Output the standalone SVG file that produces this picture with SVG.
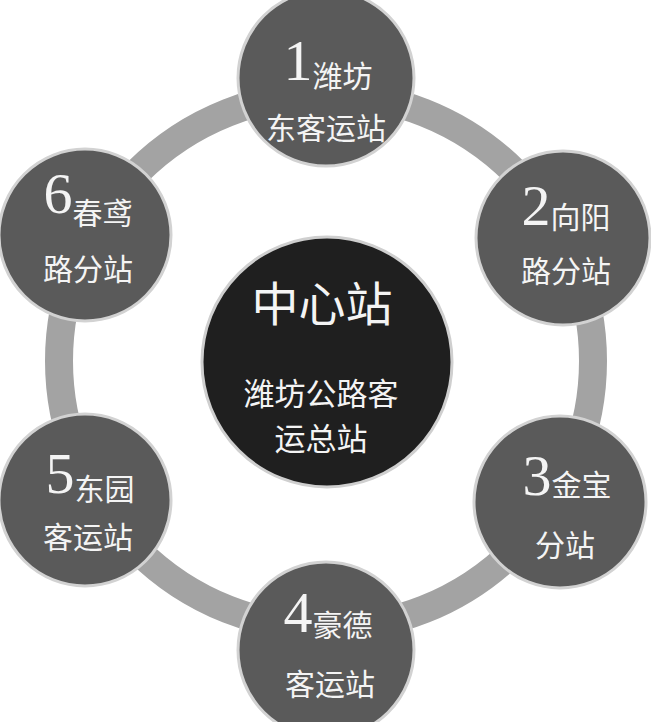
<svg xmlns="http://www.w3.org/2000/svg" width="651" height="722" viewBox="0 0 651 722">
<style>
.node{fill:#5a5a5a;stroke:#d2d2d2;stroke-width:3}
.hub{fill:#1f1f1f;stroke:#cfcfcf;stroke-width:3}
.ring{fill:none;stroke:#a3a3a3;stroke-width:28}
text{fill:#f4f4f4;text-anchor:middle;font-family:"Noto Sans CJK SC","Noto Sans CJK TC",sans-serif}
.n{font-family:"Liberation Serif","DejaVu Serif",serif;font-size:58px}
.c{font-size:30px}
.big{font-size:47px}
.mid{font-size:31px}
</style>
<rect width="651" height="722" fill="#ffffff"/>
<g id="connectors">
<circle class="ring" cx="326" cy="361" r="267"/>
</g>
<g id="hub">
<circle class="hub" cx="327" cy="362" r="125"/>
<text class="big" x="322" y="321">中心站</text>
<text class="mid" x="321" y="405">潍坊公路客</text>
<text class="mid" x="321" y="450">运总站</text>
</g>
<g id="node1">
<circle class="node" cx="326" cy="78" r="88"/>
<text x="328" y="80"><tspan class="n">1</tspan><tspan class="c" dy="7">潍坊</tspan></text>
<text class="c" x="326" y="139">东客运站</text>
</g>
<g id="node2">
<circle class="node" cx="563" cy="238" r="87"/>
<text x="566" y="225"><tspan class="n">2</tspan><tspan class="c" dy="3">向阳</tspan></text>
<text class="c" x="566" y="282">路分站</text>
</g>
<g id="node3">
<circle class="node" cx="560" cy="502" r="86"/>
<text x="567" y="495"><tspan class="n">3</tspan><tspan class="c" dy="1">金宝</tspan></text>
<text class="c" x="565" y="556">分站</text>
</g>
<g id="node4">
<circle class="node" cx="326" cy="650" r="88"/>
<text x="328" y="632"><tspan class="n">4</tspan><tspan class="c" dy="4">豪德</tspan></text>
<text class="c" x="330" y="695">客运站</text>
</g>
<g id="node5">
<circle class="node" cx="85" cy="500" r="86"/>
<text x="90" y="493"><tspan class="n">5</tspan><tspan class="c" dy="7">东园</tspan></text>
<text class="c" x="88" y="548">客运站</text>
</g>
<g id="node6">
<circle class="node" cx="85" cy="235" r="86"/>
<text x="88" y="213"><tspan class="n">6</tspan><tspan class="c" dy="11">春鸢</tspan></text>
<text class="c" x="88" y="280">路分站</text>
</g>
</svg>
